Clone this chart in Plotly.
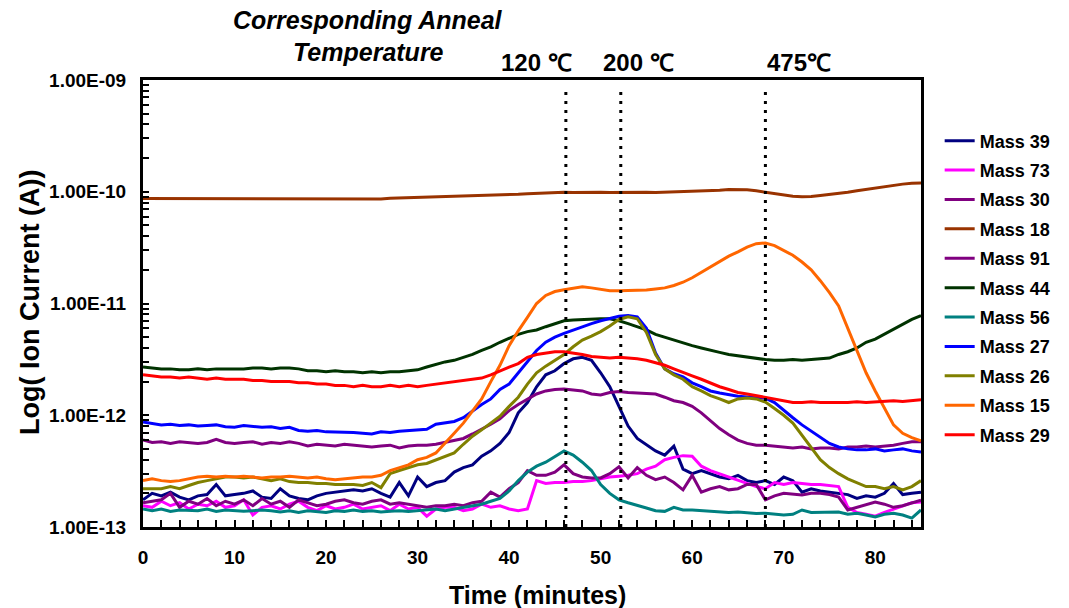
import plotly.graph_objects as go

# Ion currents are listed in units of 1e-13 A, sampled once per minute.
UNIT = 1e-13
time_min = list(range(0, 86))

mass_39 = [1.75, 2.0, 1.9, 2.05, 1.85, 1.75, 1.9, 1.95, 2.4, 1.9,
           1.95, 2.0, 2.1, 1.85, 1.8, 2.2, 1.9, 1.8, 1.75, 1.9,
           2.0, 2.05, 2.1, 2.15, 2.1, 2.2, 2.0, 1.85, 2.5, 1.9,
           2.8, 2.3, 2.5, 2.6, 3.1, 3.4, 3.6, 4.3, 4.8, 5.6,
           7.0, 10.5, 13, 18, 23, 25, 29, 32, 33, 31,
           24, 18, 12, 8.0, 6.2, 5.5, 4.8, 4.4, 5.3, 3.3,
           3.0, 3.2, 3.0, 2.8, 2.7, 2.9, 2.6, 2.5, 2.6, 2.4,
           2.8, 2.6, 2.05, 2.2, 2.1, 2.05, 2.0, 1.95, 1.8, 1.9,
           1.85, 2.0, 2.45, 1.95, 2.0, 2.05]

mass_73 = [1.55, 1.5, 1.7, 1.55, 1.65, 1.45, 1.6, 1.55, 1.7, 1.5,
           1.55, 1.75, 1.28, 1.5, 1.55, 1.45, 1.6, 1.7, 1.5, 1.4,
           1.55, 1.45, 1.5, 1.6, 1.45, 1.5, 1.55, 1.4, 1.6, 1.45,
           1.5, 1.25, 1.45, 1.5, 1.5, 1.4, 1.45, 1.6, 1.5, 1.55,
           1.45, 1.4, 1.45, 2.6, 2.45, 2.5, 2.5, 2.55, 2.55, 2.6,
           2.7, 2.8, 2.85, 2.9, 3.0, 3.3, 3.5, 4.0, 4.2, 4.35,
           4.3, 3.5, 3.2, 3.0, 2.8, 2.6, 2.45, 2.3, 2.2, 2.5,
           2.4, 2.5, 2.45, 2.4, 2.4, 2.35, 2.3, 1.5, 1.35, 1.3,
           1.25, 1.35, 1.45, 1.55, 1.65, 1.67]

mass_30 = [6.0, 5.7, 5.8, 5.6, 5.8, 5.7, 5.6, 5.7, 6.1, 5.7,
           5.6, 5.7, 5.8, 5.5, 5.7, 5.6, 5.8, 5.6, 5.3, 5.5,
           5.4, 5.3, 5.5, 5.4, 5.3, 5.2, 5.3, 5.4, 5.1, 5.3,
           5.4, 5.4, 5.5, 5.7, 5.9, 6.2, 6.8, 7.5, 8.3, 9.3,
           11, 12.5, 14, 15.5, 16.5, 17, 17.2, 16.8, 16.5, 15.5,
           15.2, 16, 16.3, 16, 15.8, 15.8, 15.5, 14.5, 13.5, 13,
           12, 10.5, 9.0, 7.6, 6.7, 6.0, 5.6, 5.4, 5.4, 5.3,
           5.2, 5.1, 5.2, 5.0, 5.1, 5.1, 5.0, 5.2, 5.2, 5.3,
           5.2, 5.3, 5.4, 5.6, 5.8, 5.8]

mass_18 = [870, 870, 868, 870, 865, 860, 862, 860, 865, 862,
           860, 862, 865, 860, 862, 865, 870, 872, 870, 870,
           870, 872, 870, 870, 870, 865, 860, 875, 880, 878,
           880, 885, 892, 895, 900, 910, 915, 920, 925, 935,
           940, 950, 960, 970, 980, 995, 990, 985, 990, 990,
           990, 985, 990, 985, 988, 990, 985, 990, 995, 1000,
           1000, 1005, 1015, 1030, 1045, 1050, 1040, 1020, 990, 960,
           930, 910, 900, 905, 925, 945, 960, 990, 1020, 1050,
           1080, 1110, 1140, 1170, 1190, 1200]

mass_91 = [1.65, 1.7, 1.75, 2.0, 1.5, 1.7, 1.6, 1.8, 1.55, 1.7,
           1.6, 1.75, 1.55, 1.8, 1.6, 1.7, 1.5, 1.75, 1.65, 1.55,
           1.6, 1.7, 1.75, 1.65, 1.6, 1.7, 1.75, 1.6, 1.65, 1.6,
           1.55, 1.5, 1.55, 1.55, 1.6, 1.55, 1.65, 1.7, 2.05, 1.85,
           2.2, 2.5, 3.2, 2.9, 2.9, 3.1, 3.6, 3.0, 2.8, 2.75,
           2.75, 3.0, 3.45, 2.75, 3.4, 2.9, 2.65, 2.8, 2.5, 2.15,
           2.9, 2.05, 2.2, 2.3, 2.15, 2.2, 2.4, 2.4, 1.75, 1.9,
           2.0, 1.95, 1.93, 2.0, 2.0, 1.95, 1.85, 1.42, 1.5, 1.6,
           1.67, 1.6, 1.5, 1.55, 1.64, 1.74]

mass_44 = [27, 26.5, 26, 26, 25.5, 25.5, 26, 25.5, 26, 26,
           26, 26, 26.5, 26.5, 26, 26.5, 26.5, 26, 25, 25,
           24.5, 25, 24.5, 24.5, 24, 24.5, 24, 24.5, 24.5, 25,
           25.5, 27, 28.5, 30, 31, 33, 35, 38, 41, 45,
           49, 53, 56, 58, 62, 66, 70, 71, 72, 73,
           73, 73, 70, 66, 62, 58, 53, 50, 47, 44,
           42, 40, 38, 36.5, 35, 34, 33, 32, 31.5, 31,
           31, 31.5, 31, 31.5, 32, 32.5, 35, 37, 40, 45,
           48, 53, 59, 65, 72, 78]

mass_56 = [1.45, 1.4, 1.45, 1.38, 1.42, 1.4, 1.4, 1.45, 1.38, 1.42,
           1.4, 1.38, 1.4, 1.42, 1.4, 1.36, 1.4, 1.35, 1.4, 1.38,
           1.35, 1.4, 1.38, 1.42, 1.38, 1.4, 1.36, 1.38, 1.4, 1.38,
           1.4, 1.42, 1.45, 1.4, 1.45, 1.5, 1.55, 1.6, 1.7, 1.8,
           2.1, 2.6, 3.1, 3.5, 3.8, 4.3, 4.8, 4.4, 3.8, 3.2,
           2.4, 2.0, 1.75, 1.65, 1.55, 1.48, 1.4, 1.38, 1.5, 1.42,
           1.42, 1.4, 1.38, 1.36, 1.35, 1.36, 1.33, 1.32, 1.33, 1.3,
           1.28, 1.3, 1.42, 1.35, 1.36, 1.36, 1.36, 1.3, 1.33, 1.28,
           1.23, 1.3, 1.33, 1.28, 1.2, 1.42]

mass_27 = [8.7, 8.4, 8.2, 8.3, 8.1, 8.2, 8.0, 8.1, 8.2, 7.9,
           7.8, 8.1, 7.9, 7.8, 7.9, 7.6, 7.8, 7.3, 7.2, 7.3,
           7.1, 7.1, 7.0, 7.0, 6.9, 6.8, 7.1, 7.0, 7.2, 7.3,
           7.4, 7.5, 8.3, 8.6, 8.8, 9.5, 11, 12.5, 14, 17,
           19, 24, 30, 38, 45, 50, 54, 58, 62, 66,
           70, 74, 77, 78, 76, 60, 36, 26, 23.5, 22,
           19.5, 18, 16.5, 15.8, 15.2, 14.8, 14.6, 14.5, 14.2, 13,
           11, 9.5, 8.2, 7.2, 6.3, 5.6, 5.2, 5.0, 4.9, 4.9,
           5.0, 4.8, 4.9, 5.0, 4.8, 4.7]

mass_26 = [2.2, 2.2, 2.2, 2.3, 2.2, 2.35, 2.5, 2.6, 2.7, 2.8,
           2.8, 2.75, 2.8, 2.7, 2.6, 2.7, 2.55, 2.5, 2.5, 2.45,
           2.45, 2.4, 2.4, 2.4, 2.35, 2.5, 2.25, 3.0, 3.2, 3.4,
           3.6, 3.7, 4.0, 4.3, 4.6, 5.5, 6.5, 7.4, 8.5, 9.8,
           12, 14.5, 19, 24, 27.5, 31, 35, 41, 47, 51,
           56, 63, 72, 76, 73, 55, 35, 26, 23, 21,
           18, 16.5, 15, 14, 13, 14, 14.3, 14, 13.1, 11.5,
           10, 8.5, 6.6, 5.2, 4.0, 3.4, 3.0, 2.7, 2.5, 2.3,
           2.3, 2.2, 2.3, 2.15, 2.3, 2.6]

mass_15 = [2.6, 2.7, 2.6, 2.55, 2.6, 2.7, 2.8, 2.85, 2.8, 2.85,
           2.8, 2.85, 2.8, 2.75, 2.8, 2.8, 2.85, 2.8, 2.75, 2.8,
           2.7, 2.65, 2.7, 2.75, 2.8, 2.8, 2.9, 3.2, 3.4, 3.6,
           4.0, 4.2, 4.6, 5.6, 6.9, 8.5, 11, 14, 20, 28,
           42, 57, 75, 100, 118, 128, 133, 138, 141, 138,
           133, 130, 130, 130, 130, 132, 135, 138, 145, 155,
           170, 190, 210, 235, 265, 290, 320, 343, 348, 330,
           300, 270, 235, 200, 160, 125, 95, 60, 38, 24,
           16.5, 11.5, 8.2, 6.9, 6.3, 5.9]

mass_29 = [23, 22.5, 22, 22, 21.5, 22, 21.5, 21, 21.5, 21,
           21, 21, 20.5, 20.5, 20, 20, 20, 19.5, 19.5, 19,
           19, 18.5, 18.5, 18, 18.5, 18, 18, 18.5, 18, 18.5,
           18, 18.5, 19, 19.5, 20, 20.5, 21, 21.5, 23, 25,
           27, 29, 33, 35, 36, 37, 37, 36, 35, 33.5,
           33, 32.5, 33, 32.5, 32, 31, 29.5, 28, 26, 24,
           22.5, 21, 19.5, 18, 17, 16, 15.5, 15, 14.5, 14,
           13.5, 13, 13, 13.2, 13, 12.9, 13, 13, 13.2, 13,
           13.2, 13.4, 13.5, 13.3, 13.6, 13.8]

series_names = ["Mass 39", "Mass 73", "Mass 30", "Mass 18", "Mass 91", "Mass 44",
                "Mass 56", "Mass 27", "Mass 26", "Mass 15", "Mass 29"]
series_values = [mass_39, mass_73, mass_30, mass_18, mass_91, mass_44,
                 mass_56, mass_27, mass_26, mass_15, mass_29]
series_colors = ["#000080", "#FF00FF", "#800080", "#993300", "#800080", "#003300",
                 "#008080", "#0000FF", "#808000", "#FF6600", "#FF0000"]

# Anneal temperature markers (minutes), their labels and label centres (minutes)
anneal_times = [46.2, 52.2, 68.0]
anneal_labels = ["120 \u2103", "200 \u2103", "475\u2103"]
anneal_label_x = [43.0, 54.1, 71.7]

x_tick_vals = list(range(0, 86, 2))
x_tick_text = [str(v) if v % 10 == 0 else "" for v in x_tick_vals]
y_decades = [-13, -12, -11, -10, -9]
y_decade_text = ["1.00E-13", "1.00E-12", "1.00E-11", "1.00E-10", "1.00E-09"]

FONT = "Liberation Sans, Arial, Helvetica, sans-serif"

# plot-area geometry in pixels, used to place the free text
L, R, T, B, W, H = 143, 148, 80, 81, 1069, 608
PW, PH = W - L - R, H - T - B


def px_x(px):
    return (px - L) / PW


def px_y(py):
    return (H - B - py) / PH


def bold(size):
    return dict(family=FONT, size=size, color="black", weight="bold")


fig = go.Figure()
for name, vals, color in zip(series_names, series_values, series_colors):
    fig.add_trace(go.Scatter(
        x=time_min, y=[v * UNIT for v in vals], mode="lines", name=name,
        legendgroup=name, line=dict(color=color, width=3)))

# y ticks: every integer multiple within each decade, labels on decades only
y_tick_vals, y_tick_text = [], []
for d, label in zip(y_decades, y_decade_text):
    y_tick_vals.append(10.0 ** d)
    y_tick_text.append(label)
    if d < -9:
        for m in range(2, 10):
            y_tick_vals.append(m * 10.0 ** d)
            y_tick_text.append("")

for t in anneal_times:
    fig.add_shape(type="line", xref="x", yref="paper", x0=t, x1=t, y0=0, y1=0.985,
                  line=dict(color="black", width=3, dash="3px,6px"))

for xl, lab in zip(anneal_label_x, anneal_labels):
    fig.add_annotation(x=xl, xref="x", y=px_y(62), yref="paper", text=lab, showarrow=False,
                       xanchor="center", yanchor="middle", font=bold(24))

fig.add_annotation(x=px_x(368), xref="paper", y=px_y(20), yref="paper",
                   text="<i>Corresponding Anneal</i>", showarrow=False,
                   xanchor="center", yanchor="middle", font=bold(25))
fig.add_annotation(x=px_x(368), xref="paper", y=px_y(52), yref="paper",
                   text="<i>Temperature</i>", showarrow=False,
                   xanchor="center", yanchor="middle", font=bold(25))
fig.add_annotation(x=px_x(537), xref="paper", y=px_y(595), yref="paper",
                   text="Time (minutes)", showarrow=False,
                   xanchor="center", yanchor="middle", font=bold(25))
fig.add_annotation(x=px_x(30), xref="paper", y=px_y(303), yref="paper",
                   text="Log( Ion Current (A))", showarrow=False, textangle=-90,
                   xanchor="center", yanchor="middle", font=bold(27))

fig.update_layout(
    width=W, height=H,
    margin=dict(l=L, r=R, t=T, b=B),
    paper_bgcolor="white", plot_bgcolor="white",
    showlegend=True,
    legend=dict(x=1.024, y=0.905, xanchor="left", yanchor="top",
                font=bold(18), tracegroupgap=3, bgcolor="rgba(0,0,0,0)"),
    font=dict(family=FONT, color="black"),
)

fig.update_xaxes(
    range=[0, 85], tickmode="array", tickvals=x_tick_vals, ticktext=x_tick_text,
    ticks="inside", ticklen=7, tickwidth=2, tickcolor="black",
    showline=True, linewidth=3, linecolor="black", mirror=True,
    showgrid=False, zeroline=False, ticklabelstandoff=11,
    tickfont=bold(19))

fig.update_yaxes(
    type="log", range=[-13, -9], tickmode="array", tickvals=y_tick_vals, ticktext=y_tick_text,
    ticks="inside", ticklen=6, tickwidth=2, tickcolor="black",
    showline=True, linewidth=3, linecolor="black", mirror=True,
    showgrid=False, zeroline=False, ticklabelstandoff=10,
    tickfont=bold(19))

fig.write_html("out.html")
